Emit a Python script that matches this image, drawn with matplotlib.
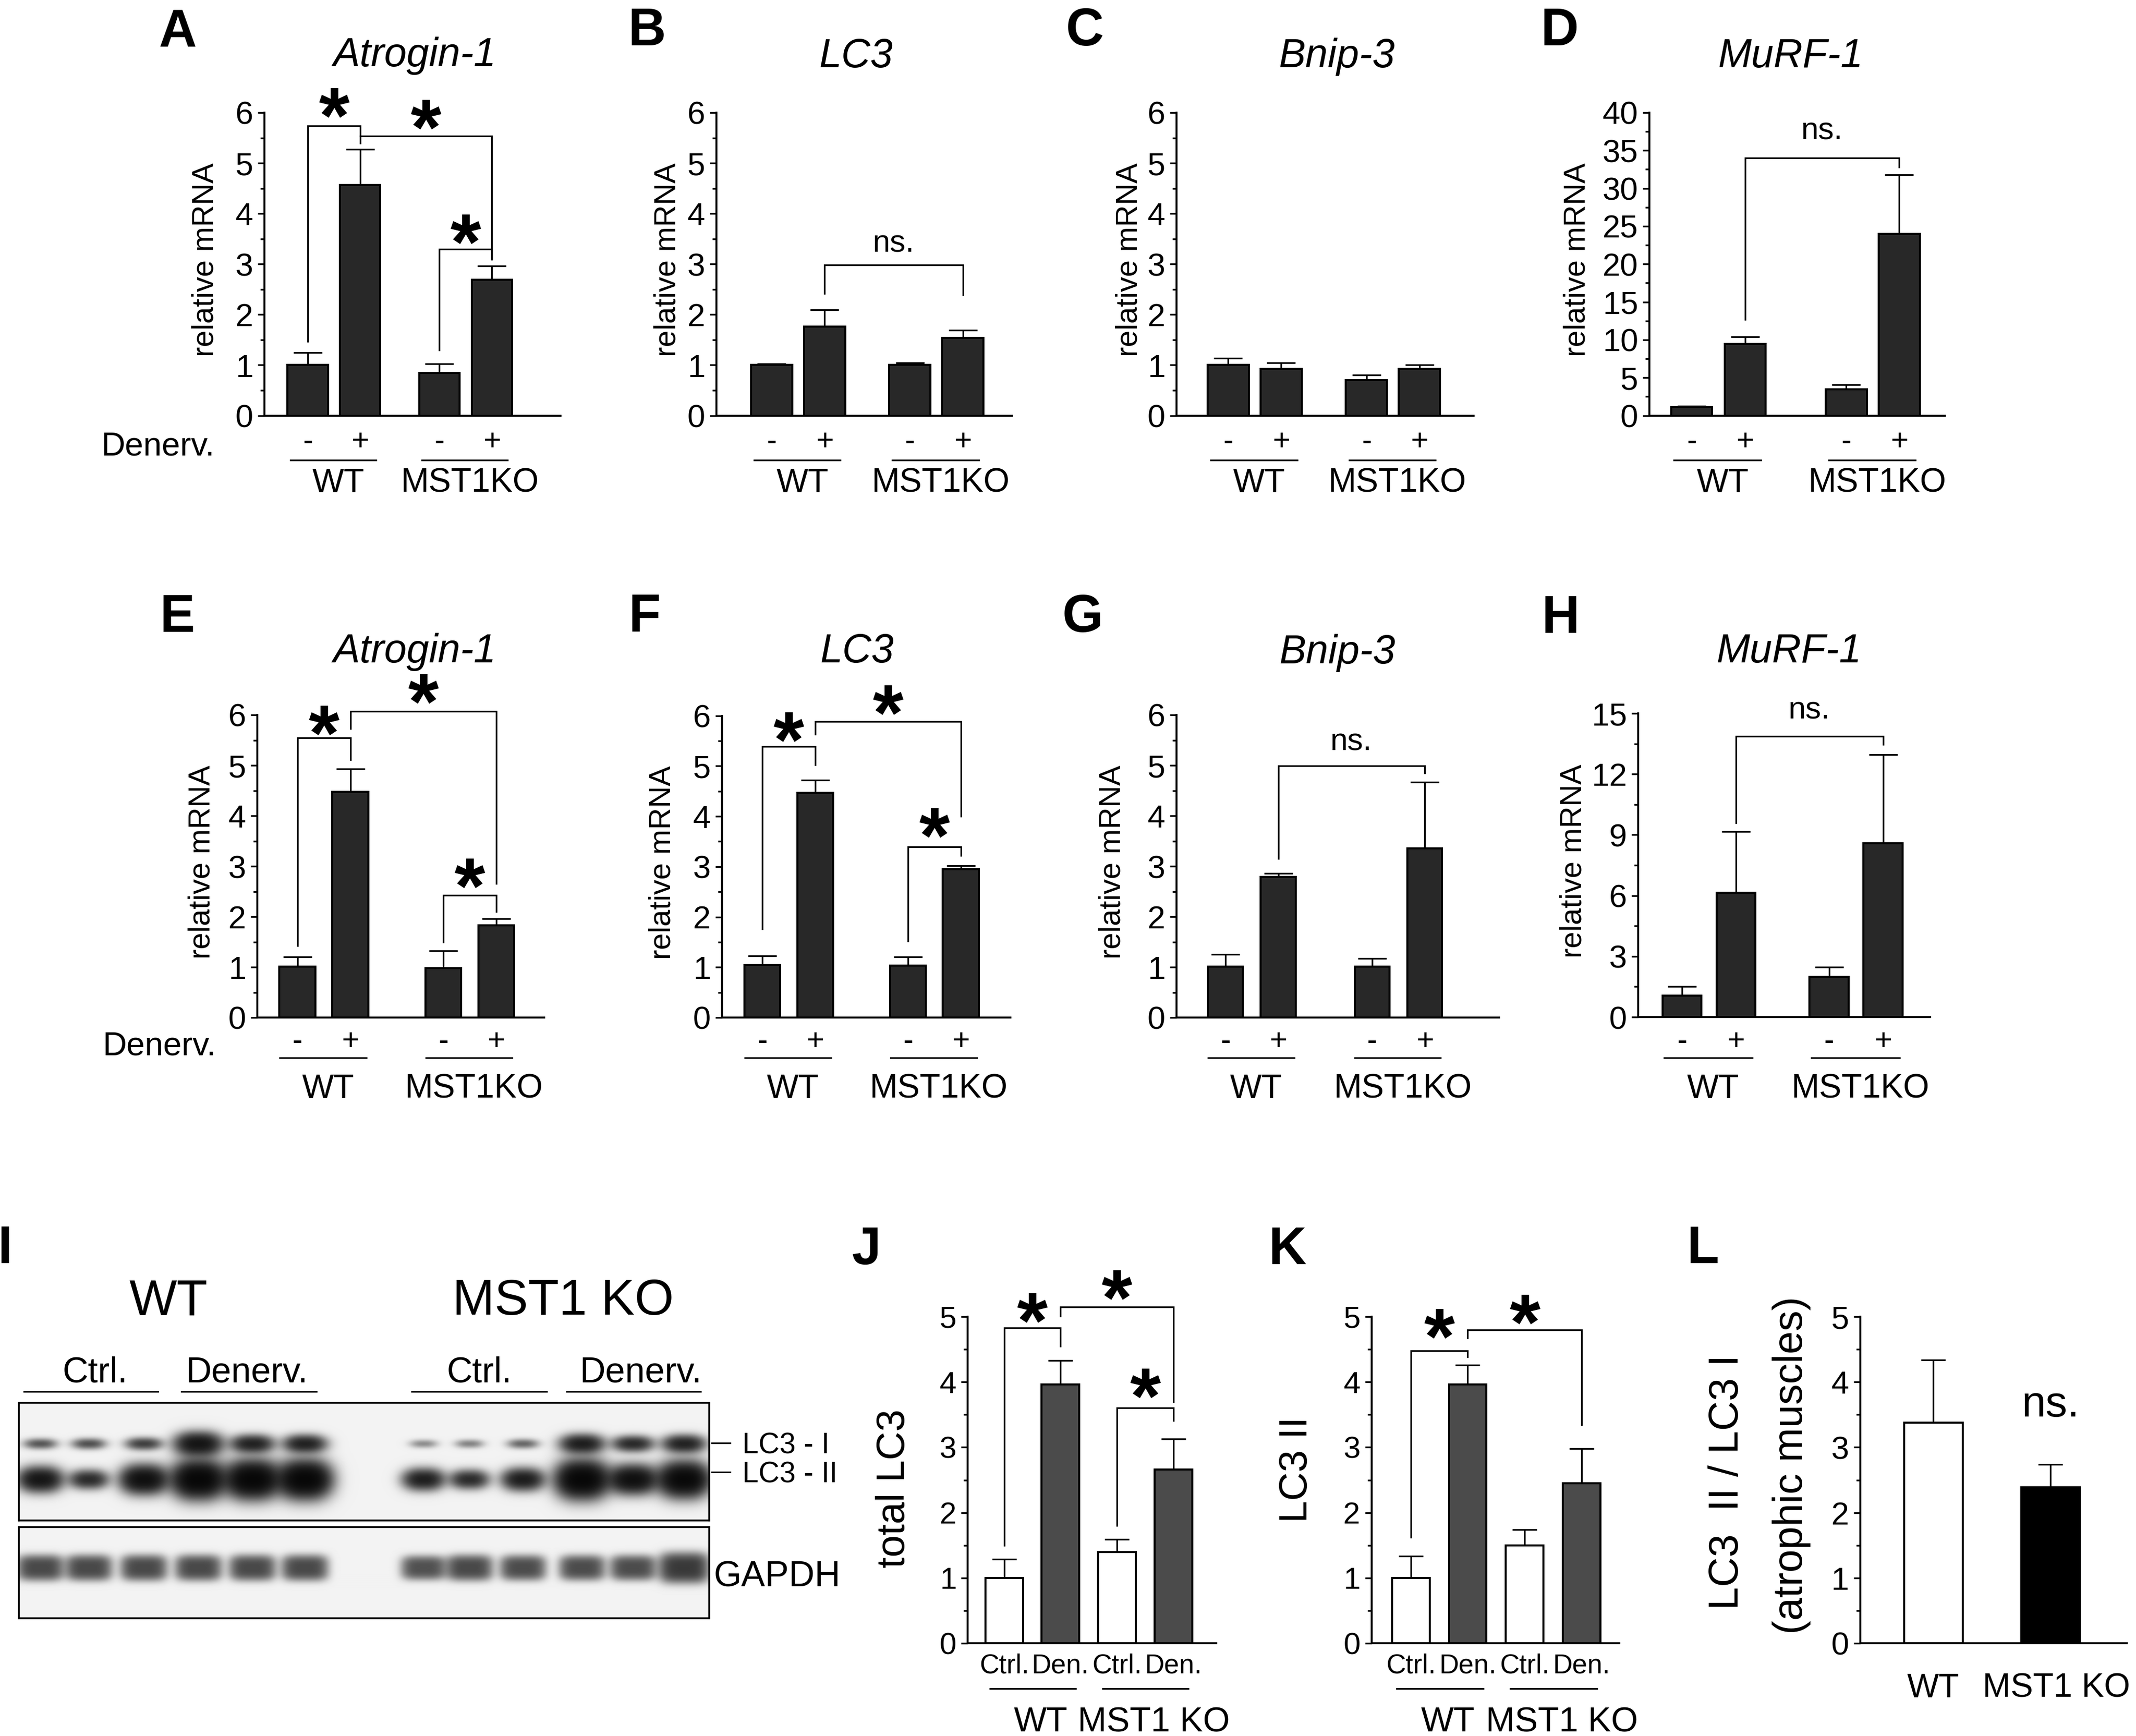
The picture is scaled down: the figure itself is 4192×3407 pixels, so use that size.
import numpy as np
import matplotlib
matplotlib.use('Agg')
import matplotlib.pyplot as plt
from matplotlib import font_manager
from matplotlib.lines import Line2D
from matplotlib.ticker import FormatStrFormatter
from matplotlib.transforms import blended_transform_factory

#%% data
groups = ['WT', 'MST1KO']
signs = ['-', '+', '-', '+']

# top row
a_mean = [1.0, 4.57, 0.84, 2.69]
a_err = [0.25, 0.70, 0.19, 0.27]
b_mean = [1.0, 1.76, 1.0, 1.54]
b_err = [0.03, 0.33, 0.05, 0.15]
c_mean = [1.0, 0.92, 0.70, 0.92]
c_err = [0.14, 0.13, 0.10, 0.08]
d_mean = [1.1, 9.45, 3.45, 24.0]
d_err = [0.15, 0.95, 0.65, 7.8]

# second row
e_mean = [1.01, 4.47, 0.98, 1.83]
e_err = [0.19, 0.46, 0.34, 0.13]
f_mean = [1.04, 4.47, 1.03, 2.95]
f_err = [0.19, 0.25, 0.18, 0.07]
g_mean = [1.01, 2.79, 1.01, 3.35]
g_err = [0.24, 0.07, 0.16, 1.32]
h_mean = [1.06, 6.15, 1.99, 8.57]
h_err = [0.46, 3.01, 0.47, 4.38]

# western blot quantification
j_mean = [1.0, 3.96, 1.40, 2.66]
j_err = [0.29, 0.37, 0.19, 0.47]
k_mean = [1.0, 3.96, 1.50, 2.45]
k_err = [0.33, 0.30, 0.24, 0.53]
l_labels = ['WT', 'MST1 KO']
l_mean = [3.38, 2.39]
l_err = [0.96, 0.35]

# blot band strengths, 12 lanes (WT ctrl x3, WT den x3, KO ctrl x3, KO den x3)
lc3_i_band = [0.42, 0.45, 0.55, 1.0, 0.8, 0.8, 0.22, 0.25, 0.35, 0.85, 0.72, 0.8]
lc3_ii_band = [0.7, 0.5, 0.8, 1.0, 1.0, 1.0, 0.6, 0.5, 0.62, 1.0, 0.8, 0.95]
gapdh_band = [0.6, 0.6, 0.6, 0.6, 0.6, 0.6, 0.55, 0.6, 0.58, 0.58, 0.58, 0.72]

# significance brackets: (bar i, bar j, left leg start, top, right leg end)
a_brk = [(0, 1, 1.47, 5.74, 5.39), (1, 3, 5.54, 5.54, 3.09), (2, 3, 1.30, 3.30, 3.10)]
a_star = [6.28, 6.05, 3.78]
b_brk = [(1, 3, 2.42, 2.98, 2.39)]
b_ns = 3.40
d_brk = [(1, 3, 12.7, 34.0, 32.8)]
d_ns = 37.5
e_brk = [(0, 1, 1.42, 5.55, 5.11), (1, 3, 5.73, 6.07, 2.66), (2, 3, 1.49, 2.42, 2.10)]
e_star = [5.98, 6.6, 2.95]
f_brk = [(0, 1, 1.76, 5.39, 5.02), (1, 3, 5.63, 5.88, 4.0), (2, 3, 1.52, 3.39, 3.22)]
f_star = [5.86, 6.4, 3.96]
g_brk = [(1, 3, 3.15, 4.99, 4.85)]
g_ns = 5.45
h_brk = [(1, 3, 9.58, 13.88, 13.46)]
h_ns = 15.13
j_brk = [(0, 1, 1.50, 4.83, 4.55), (1, 3, 5.01, 5.15, 3.70), (2, 3, 1.80, 3.60, 3.41)]
j_star = [5.2, 5.55, 4.05]
k_brk = [(0, 1, 1.62, 4.48, 4.38), (1, 3, 4.67, 4.80, 3.35)]
k_star = [4.96, 5.18]
l_ns = 3.64

#%% figure setup
W, H = 4192, 3407
DPI = 200
plt.rcParams['font.family'] = ['Liberation Sans', 'DejaVu Sans']

names = {f.name for f in font_manager.fontManager.ttflist}
if 'Liberation Sans Narrow' in names:
    NARROW, NSC = ['Liberation Sans Narrow', 'Liberation Sans'], 1.0
else:
    NARROW, NSC = ['Liberation Sans', 'DejaVu Sans'], 0.82

DARK = '#282828'
fig = plt.figure(figsize=(W / DPI, H / DPI), dpi=DPI)


def pt(px):
    return px * 72.0 / DPI


def fx(x):
    return x / W


def fy(y):
    return 1 - y / H


def px_rect(l, t, r, b):
    return [l / W, 1 - b / H, (r - l) / W, (b - t) / H]


def ctext(x, y, s, size, **kw):
    # y is the visual centre of capital letters (pixels from top)
    fig.text(fx(x), fy(y + 0.358 * size), s, fontsize=pt(size), va='baseline', **kw)


def fline(x0, x1, y, lw=3.2):
    fig.add_artist(Line2D([fx(x0), fx(x1)], [fy(y), fy(y)], color='black', lw=pt(lw),
                          transform=fig.transFigure))


def bar_panel(rect, xpos, xlim, width, mean, err, colors, ymax, major, minor,
              cap=28, tick_px=63):
    ax = fig.add_axes(px_rect(*rect))
    ax.patch.set_visible(False)
    ax.bar(xpos, mean, width, color=colors, edgecolor='black', linewidth=pt(4), zorder=3)
    ax.errorbar(xpos, mean, yerr=[np.zeros(len(mean)), err], fmt='none', ecolor='black',
                elinewidth=pt(3.3), capsize=pt(cap), capthick=pt(3.3), zorder=2)
    ax.set_xlim(xlim)
    ax.set_ylim(0, ymax)
    for s in ['top', 'right']:
        ax.spines[s].set_visible(False)
    for s in ['left', 'bottom']:
        ax.spines[s].set_linewidth(pt(3.8))
    ax.set_xticks([])
    ax.set_yticks(np.arange(0, ymax + 1e-9, major))
    ax.set_yticks(np.arange(0, ymax + 1e-9, minor), minor=True)
    ax.yaxis.set_major_formatter(FormatStrFormatter('%d'))
    ax.tick_params(axis='y', which='major', direction='out', length=pt(13), width=pt(3.4),
                   labelsize=pt(tick_px), pad=pt(9))
    ax.tick_params(axis='y', which='minor', direction='out', length=pt(8), width=pt(3.4))
    return ax


def brackets(ax, xpos, items):
    for i, j, y0, ytop, y1 in items:
        ax.plot([xpos[i], xpos[i], xpos[j], xpos[j]], [y0, ytop, ytop, y1], color='black',
                lw=pt(3.3), clip_on=False, solid_joinstyle='miter', zorder=4)


def stars(ax, xpos, items, ys, size=155):
    fs = pt(size)
    for (i, j, *_), y in zip(items, ys):
        ax.annotate('*', xy=((xpos[i] + xpos[j]) / 2, y), xytext=(0, -0.56 * fs),
                    textcoords='offset points', ha='center', va='baseline', fontsize=fs,
                    fontweight='bold', annotation_clip=False)


def ns(ax, x, y, size=75):
    ax.text(x, y, 'ns.', ha='center', va='center', fontsize=pt(size * NSC), family=NARROW,
            clip_on=False)


def sub_labels(ax, xpos, y_sign, y_line, y_group, labels, sub, sub_px, grp_px,
               span=(0.33, 0.3), grp_shift=0.08):
    tr = blended_transform_factory(ax.transData, fig.transFigure)
    for x, s in zip(xpos, sub):
        ax.text(x, fy(y_sign + 0.358 * sub_px[1]), s, transform=tr, ha='center', va='baseline',
                fontsize=pt(sub_px[0]), family=sub_px[2], clip_on=False)
    for k, g in enumerate(labels):
        x0, x1 = xpos[2 * k], xpos[2 * k + 1]
        ax.plot([x0 - span[0], x1 + span[1]], [fy(y_line)] * 2, transform=tr, color='black',
                lw=pt(3.3), clip_on=False)
        ax.text((x0 + x1) / 2 + grp_shift, fy(y_group + 0.358 * grp_px), g, transform=tr,
                ha='center', va='baseline', fontsize=pt(grp_px), clip_on=False)


def ylabel(x, y, s, size, family=None):
    fig.text(fx(x), fy(y), s, rotation=90, ha='center', va='center', fontsize=pt(size * NSC),
             family=family or NARROW, linespacing=1.0)


#%% row 1 and row 2 : qPCR panels
panels = [
    # letter, title, rect, xpos, xlim, width, mean, err, ymax, major, minor, letter pos, title pos, ylabel x
    ('A', 'Atrogin-1', (519, 221, 1100, 815.6), [0, 1, 2.51, 3.51], (-0.825, 4.82), 0.77,
     a_mean, a_err, 6, 1, 0.5, (349, 55), (814, 102), 403),
    ('B', 'LC3', (1406, 221, 1986.5, 815.6), [0, 1, 2.61, 3.61], (-1.04, 4.54), 0.78,
     b_mean, b_err, 6, 1, 0.5, (1269, 52), (1680, 104), 1310),
    ('C', 'Bnip-3', (2309, 221, 2892, 815.6), [0, 1, 2.61, 3.61], (-0.976, 4.63), 0.78,
     c_mean, c_err, 6, 1, 0.5, (2129, 52), (2624, 104), 2216),
    ('D', 'MuRF-1', (3237, 221, 3817, 815.6), [0, 1, 2.89, 3.88], (-0.79, 4.733), 0.77,
     d_mean, d_err, 40, 5, 2.5, (3060, 52), (3514, 104), 3095),
    ('E', 'Atrogin-1', (505, 1403, 1067.7, 1997), [0, 1, 2.75, 3.75], (-0.756, 4.65), 0.68,
     e_mean, e_err, 6, 1, 0.5, (347, 1203), (814, 1272), 396),
    ('F', 'LC3', (1417, 1404.5, 1982.5, 1997), [0, 1, 2.75, 3.75], (-0.76, 4.68), 0.68,
     f_mean, f_err, 6, 1, 0.5, (1265, 1202), (1682, 1272), 1300),
    ('G', 'Bnip-3', (2309, 1403, 2942, 1997), [0, 1, 2.78, 3.78], (-0.93, 5.19), 0.66,
     g_mean, g_err, 6, 1, 0.5, (2125, 1203), (2625, 1274), 2183),
    ('H', 'MuRF-1', (3215, 1400, 3788, 1996), [0, 1, 2.72, 3.72], (-0.81, 4.59), 0.72,
     h_mean, h_err, 15, 3, 1.5, (3062, 1205), (3511, 1272), 3088),
]
axes = {}
for (let, title, rect, xpos, xlim, width, mean, err, ymax, major, minor,
     lpos, tpos, ylx) in panels:
    ax = bar_panel(rect, xpos, xlim, width, mean, err, DARK, ymax, major, minor)
    axes[let] = (ax, xpos)
    ctext(lpos[0], lpos[1], let, 103, ha='center', fontweight='bold')
    ctext(tpos[0], tpos[1], title, 79, ha='center', style='italic')
    top_row = rect[1] < 1000
    ylabel(ylx, (rect[1] + rect[3]) / 2 - 8, 'relative mRNA', 72)
    if top_row:
        sub_labels(ax, xpos, 867, 903, 942, groups, signs, (60, 44, None), 66)
    else:
        sub_labels(ax, xpos, 2044, 2076, 2131, groups, signs, (60, 44, None), 66)

ctext(421, 870, 'Denerv.', 65, ha='right')
ctext(424, 2047, 'Denerv.', 65, ha='right')

ax, xp = axes['A']
brackets(ax, xp, a_brk)
stars(ax, xp, a_brk, a_star)
ax, xp = axes['B']
brackets(ax, xp, b_brk)
ns(ax, (xp[1] + xp[3]) / 2, b_ns)
ax, xp = axes['D']
brackets(ax, xp, d_brk)
ns(ax, (xp[1] + xp[3]) / 2, d_ns)
ax, xp = axes['E']
brackets(ax, xp, e_brk)
stars(ax, xp, e_brk, e_star)
ax, xp = axes['F']
brackets(ax, xp, f_brk)
stars(ax, xp, f_brk, f_star)
ax, xp = axes['G']
brackets(ax, xp, g_brk)
ns(ax, (xp[1] + xp[3]) / 2, g_ns)
ax, xp = axes['H']
brackets(ax, xp, h_brk)
ns(ax, (xp[1] + xp[3]) / 2, h_ns)

#%% panel I : western blot (bands rebuilt from the band strengths)


def blot(rect, lanes, rows, bg=0.95):
    l, t, r, b = rect
    ax = fig.add_axes(px_rect(l, t, r, b))
    wd, ht = int(r - l), int(b - t)
    yy, xx = np.mgrid[0:ht, 0:wd].astype(float)
    dens = np.zeros((ht, wd))
    for yc, amps, hw, sy, gain, px, pyw in rows:
        for xc, a in zip(lanes, amps):
            hx = hw * (0.5 + 0.5 * a)
            sy2 = sy * (0.35 + 0.65 * a ** 2)
            dens += gain * a * np.exp(-np.abs((xx - xc) / hx) ** px
                                      - np.abs((yy - yc) / sy2) ** pyw)
    img = bg * np.exp(-dens)
    ax.imshow(img, cmap='gray', vmin=0, vmax=1, extent=(0, wd, ht, 0), aspect='auto',
              interpolation='bilinear')
    ax.set_xticks([])
    ax.set_yticks([])
    for s in ax.spines.values():
        s.set_linewidth(pt(3.6))
    return ax


lanes = [42, 137, 245, 352, 458, 561, 794, 884, 989, 1105, 1205, 1305]
blot((37, 2753, 1392, 2984), lanes,
     [(80, lc3_i_band, 42, 20, 2.4, 2.5, 2), (150, lc3_ii_band, 46, 32, 3.4, 2.5, 2)])
blot((37, 2997, 1392, 3176), lanes, [(80, gapdh_band, 54, 40, 2.0, 4, 3)])

ctext(9, 2442, 'I', 103, ha='center', fontweight='bold')
ctext(331, 2545, 'WT', 99, ha='center')
ctext(1105, 2545, 'MST1 KO', 99, ha='center')
for x, s in zip([187, 484, 940, 1257], ['Ctrl.', 'Denerv.', 'Ctrl.', 'Denerv.']):
    ctext(x, 2687, s, 70, ha='center')
for x0, x1 in [(47, 310), (356, 621), (808, 1073), (1112, 1375)]:
    fline(x0, x1, 2731)
fline(1397, 1433, 2832)
fline(1397, 1433, 2889)
ctext(1457, 2832, 'LC3 - I', 57, ha='left')
ctext(1457, 2889, 'LC3 - II', 57, ha='left')
ctext(1400, 3088, 'GAPDH', 70, ha='left')

#%% panels J, K, L
jk_sub = ['Ctrl.', 'Den.', 'Ctrl.', 'Den.']
jk_groups = ['WT', 'MST1 KO']
ax_j = bar_panel((1899.4, 2584, 2386.6, 3225), [0, 1, 2, 3], (-0.646, 3.76), 0.67, j_mean,
                 j_err, ['white', '#4b4b4b', 'white', '#4b4b4b'], 5, 1, 0.5, cap=24, tick_px=60)
brackets(ax_j, [0, 1, 2, 3], j_brk)
stars(ax_j, [0, 1, 2, 3], j_brk, j_star)
sub_labels(ax_j, [0, 1, 2, 3], 3267, 3314, 3374, jk_groups, jk_sub,
           (65 * NSC, 46, NARROW), 68, span=(0.25, 0.27), grp_shift=0.15)
ax_k = bar_panel((2691.8, 2584, 3178, 3225), [0, 1, 2, 3], (-0.687, 3.66), 0.66, k_mean,
                 k_err, ['white', '#4b4b4b', 'white', '#4b4b4b'], 5, 1, 0.5, cap=24, tick_px=60)
brackets(ax_k, [0, 1, 2, 3], k_brk)
stars(ax_k, [0, 1, 2, 3], k_brk, k_star)
sub_labels(ax_k, [0, 1, 2, 3], 3267, 3314, 3374, jk_groups, jk_sub,
           (65 * NSC, 46, NARROW), 68, span=(0.25, 0.27), grp_shift=0.15)

ax_l = bar_panel((3650.5, 2584, 4174, 3225), [0, 1], (-0.624, 1.65), 0.5, l_mean, l_err,
                 ['white', 'black'], 5, 1, 0.5, cap=24, tick_px=63)
tr = blended_transform_factory(ax_l.transData, fig.transFigure)
for x, s in zip([0, 1], l_labels):
    ax_l.text(x + 0.05 * x, fy(3307 + 0.358 * 66), s, transform=tr, ha='center', va='baseline',
              fontsize=pt(66), clip_on=False)
ns(ax_l, 1, l_ns, size=104)

ctext(1700, 2444, 'J', 103, ha='center', fontweight='bold')
ctext(2526, 2444, 'K', 103, ha='center', fontweight='bold')
ctext(3342, 2442, 'L', 103, ha='center', fontweight='bold')
ylabel(1755, 2921, 'total LC3', 95)
ylabel(2544, 2884, 'LC3 II', 95)
ylabel(3390, 2909, 'LC3  II / LC3 I', 99)
ylabel(3516, 2876, '(atrophic muscles)', 99)

fig.savefig('out.png', dpi=DPI)
